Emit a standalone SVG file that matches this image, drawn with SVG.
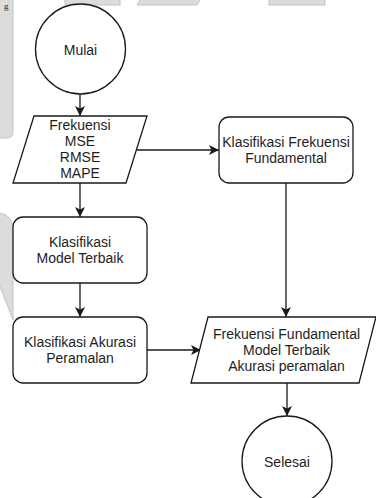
<svg xmlns="http://www.w3.org/2000/svg" width="376" height="498" viewBox="0 0 376 498">
  <defs>
    <style>
      .bg { fill: #dcdcdc; stroke: #c4c4c4; stroke-width: 1; }
      .shape { fill: #ffffff; stroke: #1a1a1a; stroke-width: 1.3; }
      .edge { fill: none; stroke: #1a1a1a; stroke-width: 1.3; }
      .label { font-family: "Liberation Sans", Arial, sans-serif; font-size: 14px; fill: #1e1e1e; text-anchor: middle; dominant-baseline: central; }
    </style>
    <marker id="arrow" markerUnits="userSpaceOnUse" markerWidth="12" markerHeight="12" refX="10" refY="5" orient="auto">
      <path d="M0,0 L10,5 L0,10 L2.5,5 Z" fill="#1a1a1a"/>
    </marker>
  </defs>
  <rect width="376" height="498" fill="#ffffff"/>

  <g id="background">
    <path class="bg" d="M-1,-1 L13,-1 L13,132 Q13,138 7,138 L-1,138 Z"/>
    <path class="bg" d="M-1,213 Q10,214 13,226 L13,320 L-1,284 Z"/>
    <rect class="bg" x="65" y="-2" width="55" height="7"/>
    <path class="bg" d="M141,-2 L201,-2 L197,5 L137,5 Z"/>
    <rect class="bg" x="269" y="-2" width="56" height="7"/>
    <text x="4" y="9" font-family="Liberation Serif, serif" font-size="9" fill="#222">g</text>
  </g>

  <g id="connectors">
    <line class="edge" x1="80" y1="94" x2="80" y2="116" marker-end="url(#arrow)"/>
    <line class="edge" x1="80" y1="183" x2="80" y2="217" marker-end="url(#arrow)"/>
    <line class="edge" x1="80" y1="283" x2="80" y2="317" marker-end="url(#arrow)"/>
    <line class="edge" x1="137" y1="150" x2="219" y2="150" marker-end="url(#arrow)"/>
    <line class="edge" x1="286" y1="183" x2="286" y2="317" marker-end="url(#arrow)"/>
    <line class="edge" x1="147" y1="350" x2="201" y2="350" marker-end="url(#arrow)"/>
    <line class="edge" x1="287" y1="383" x2="287" y2="416" marker-end="url(#arrow)"/>
  </g>

  <g id="mulai">
    <circle class="shape" cx="80.5" cy="49" r="45"/>
    <text class="label" x="80.5" y="50">Mulai</text>
  </g>

  <g id="input-frekuensi">
    <path class="shape" d="M34,116 L147,116 L126,183 L13,183 Z"/>
    <text class="label" x="80" y="125">Frekuensi</text>
    <text class="label" x="80" y="141">MSE</text>
    <text class="label" x="80" y="157">RMSE</text>
    <text class="label" x="80" y="173">MAPE</text>
  </g>

  <g id="klasifikasi-frekuensi">
    <rect class="shape" x="219" y="117" width="134" height="66" rx="10" ry="10"/>
    <text class="label" x="286" y="142">Klasifikasi Frekuensi</text>
    <text class="label" x="286" y="158">Fundamental</text>
  </g>

  <g id="klasifikasi-model">
    <rect class="shape" x="13" y="217" width="134" height="66" rx="10" ry="10"/>
    <text class="label" x="80" y="242">Klasifikasi</text>
    <text class="label" x="80" y="258">Model Terbaik</text>
  </g>

  <g id="klasifikasi-akurasi">
    <rect class="shape" x="13" y="317" width="134" height="66" rx="10" ry="10"/>
    <text class="label" x="80" y="342">Klasifikasi Akurasi</text>
    <text class="label" x="80" y="358">Peramalan</text>
  </g>

  <g id="output">
    <path class="shape" d="M208,317 L376,317 L359,383 L191,383 Z"/>
    <text class="label" x="286.5" y="334">Frekuensi Fundamental</text>
    <text class="label" x="286.5" y="350">Model Terbaik</text>
    <text class="label" x="286.5" y="366">Akurasi peramalan</text>
  </g>

  <g id="selesai">
    <circle class="shape" cx="287" cy="461" r="45"/>
    <text class="label" x="287" y="462">Selesai</text>
  </g>
</svg>
